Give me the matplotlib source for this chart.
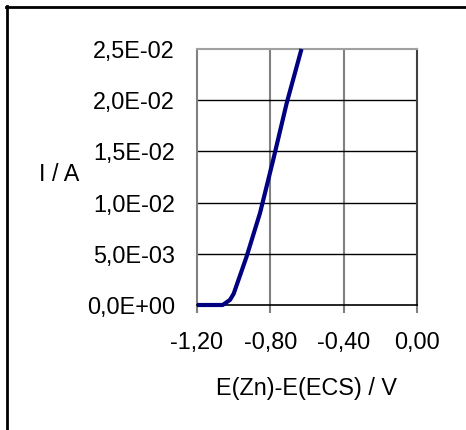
import matplotlib.pyplot as plt
from matplotlib.lines import Line2D

plt.rcParams['font.family'] = ['Liberation Sans', 'DejaVu Sans']

# data
potential = [-1.20, -1.06, -1.02, -1.00, -0.93, -0.856, -0.784, -0.711, -0.63]
current = [0.0, 0.0, 0.0005, 0.0011, 0.0047, 0.0090, 0.0142, 0.0197, 0.0250]

xticks = [-1.2, -0.8, -0.4, 0.0]
xticklabels = ["-1,20", "-0,80", "-0,40", "0,00"]
yticks = [0.0, 0.005, 0.010, 0.015, 0.020, 0.025]
yticklabels = ["0,0E+00", "5,0E-03", "1,0E-02", "1,5E-02", "2,0E-02", "2,5E-02"]

fig = plt.figure(figsize=(4.66, 4.30), dpi=100)
ax = fig.add_axes([197 / 466, 125 / 430, 220 / 466, 256 / 430])

ax.set_xlim(-1.2, 0.0)
ax.set_ylim(0.0, 0.025)

# gridlines: vertical grey, horizontal black
for x in xticks[1:3]:
    ax.axvline(x, color="#808080", lw=1.5, zorder=1)
for y in yticks[1:5]:
    ax.axhline(y, color="black", lw=1.0, zorder=1)

ax.plot(potential, current, color="#000080", lw=3.0, zorder=3, clip_on=False,
        solid_capstyle="butt")

ax.spines["left"].set_color("#808080")
ax.spines["left"].set_linewidth(1.5)
ax.spines["top"].set_color("#a0a0a0")
ax.spines["top"].set_linewidth(1.5)
ax.spines["right"].set_color("#404040")
ax.spines["right"].set_linewidth(1.5)
ax.spines["bottom"].set_color("black")
ax.spines["bottom"].set_linewidth(1.2)

fs = 16.8
ax.set_xticks(xticks)
ax.set_xticklabels(xticklabels, fontsize=fs)
ax.set_yticks(yticks)
ax.set_yticklabels(yticklabels, fontsize=fs)
ax.tick_params(axis="x", length=6, width=1.5, color="#808080", pad=13)
ax.tick_params(axis="y", length=0, pad=16)

ax.set_xlabel("E(Zn)-E(ECS) / V", fontsize=fs, labelpad=16)
ax.set_ylabel("I / A", fontsize=fs, rotation=0, ha="center", va="center")
ax.yaxis.set_label_coords(-0.627, 0.51)

# outer chart frame (left and top edges)
fig.add_artist(Line2D([6.5 / 466, 6.5 / 466], [0, 1 - 6 / 430], color="black", lw=2,
                      transform=fig.transFigure))
fig.add_artist(Line2D([6 / 466, 1], [1 - 7 / 430, 1 - 7 / 430], color="black", lw=2,
                      transform=fig.transFigure))

fig.savefig("out.png", dpi=100)
